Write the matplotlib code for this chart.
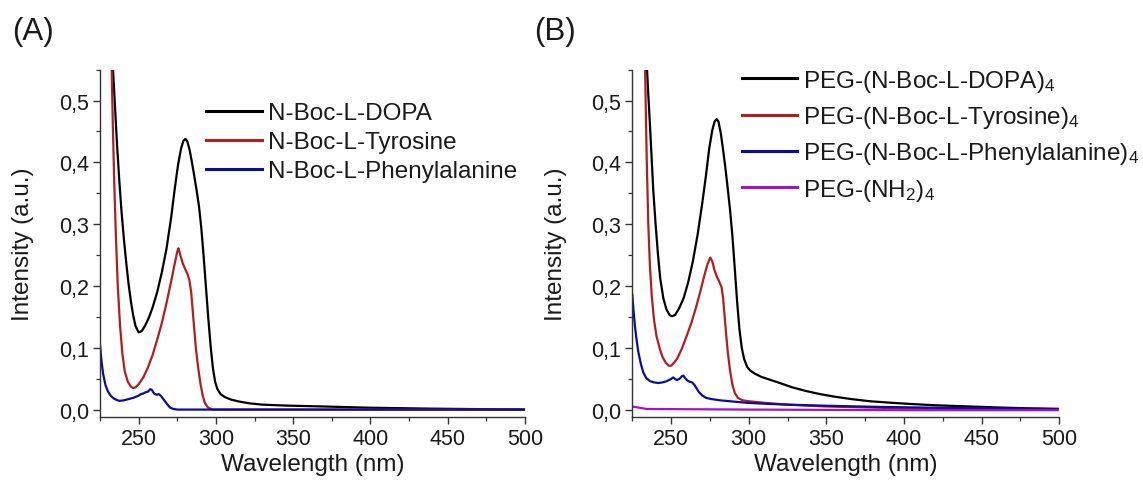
import matplotlib
matplotlib.use("Agg")
import matplotlib.pyplot as plt
from matplotlib.ticker import MultipleLocator, FuncFormatter

plt.rcParams['font.family'] = ['Liberation Sans', 'DejaVu Sans']
plt.rcParams['mathtext.fontset'] = 'custom'
plt.rcParams['mathtext.rm'] = 'Liberation Sans'
plt.rcParams['mathtext.default'] = 'regular'

# ---------------- Panel A data ----------------
a_dopa_x = [233.2, 234.5, 236.0, 237.5, 239.0, 240.5, 242.0, 243.5, 245.0, 246.5, 248.0, 250.0,
            252.0, 254.0, 256.5, 259.0, 262.0, 265.0, 268.0, 271.0, 273.5, 275.5, 277.5, 279.0,
            280.3, 281.5, 283.0, 284.5, 286.0, 287.5, 289.0, 290.5, 292.0, 293.5, 295.0, 296.5,
            298.0, 299.5, 301.0, 303.0, 306.0, 310.0, 315.0, 322.0, 330.0, 345.0, 370.0, 400.0,
            440.0, 500.0]
a_dopa_y = [0.56, 0.50, 0.43, 0.37, 0.318, 0.275, 0.237, 0.203, 0.175, 0.152, 0.135, 0.125,
            0.127, 0.135, 0.148, 0.165, 0.19, 0.222, 0.26, 0.31, 0.36, 0.396, 0.423, 0.435,
            0.438, 0.434, 0.42, 0.40, 0.378, 0.355, 0.33, 0.295, 0.25, 0.2, 0.15, 0.105,
            0.068, 0.045, 0.033, 0.025, 0.02, 0.016, 0.013, 0.010, 0.008, 0.0065, 0.005, 0.003,
            0.0015, 0.0]

a_tyr_x = [232.5, 233.3, 234.3, 235.3, 236.5, 238.0, 239.5, 241.0, 243.0, 245.0, 246.5, 248.0,
           250.0, 253.0, 256.0, 259.0, 262.0, 265.0, 268.0, 271.0, 273.5, 275.0, 275.8, 277.0,
           278.5, 280.0, 281.5, 282.8, 284.0, 285.0, 286.0, 287.0, 288.5, 290.0, 291.5, 293.0,
           295.0, 298.0, 500.0]
a_tyr_y = [0.56, 0.46, 0.36, 0.28, 0.2, 0.135, 0.09, 0.062, 0.045, 0.037, 0.035, 0.036,
           0.041, 0.052, 0.068, 0.088, 0.113, 0.14, 0.172, 0.207, 0.238, 0.256, 0.261, 0.25,
           0.237, 0.228, 0.22, 0.21, 0.19, 0.16, 0.13, 0.1, 0.068, 0.042, 0.022, 0.01,
           0.003, 0.0, 0.0]

a_phe_x = [225.0, 226.0, 227.0, 228.5, 230.0, 232.0, 234.5, 237.5, 240.5, 243.5, 246.5, 249.5,
           251.5, 253.0, 254.5, 256.0, 257.5, 258.5, 260.0, 261.5, 263.0, 264.5, 266.0, 267.5,
           269.0, 270.5, 272.5, 275.0, 500.0]
a_phe_y = [0.105, 0.078, 0.058, 0.04, 0.03, 0.022, 0.017, 0.014, 0.015, 0.017, 0.019, 0.022,
           0.025, 0.026, 0.028, 0.029, 0.033, 0.032, 0.026, 0.024, 0.025, 0.022, 0.017, 0.012,
           0.007, 0.003, 0.001, 0.0, 0.0]

# ---------------- Panel B data ----------------
b_dopa_x = [234.3, 235.3, 236.4, 237.5, 238.5, 240.0, 241.5, 243.0, 245.0, 247.0, 249.0, 250.5,
            252.5, 255.0, 258.0, 261.0, 264.0, 267.0, 270.0, 272.5, 274.5, 276.5, 278.0, 279.3,
            280.5, 282.0, 283.5, 285.0, 286.5, 288.0, 289.5, 291.0, 292.5, 294.0, 295.5, 297.0,
            299.0, 301.0, 304.0, 308.0, 314.0, 320.0, 328.0, 337.0, 346.0, 355.0, 366.0, 378.0,
            392.0, 405.0, 420.0, 440.0, 460.0, 480.0, 500.0]
b_dopa_y = [0.56, 0.51, 0.459, 0.405, 0.355, 0.3, 0.252, 0.212, 0.18, 0.162, 0.153, 0.151,
            0.153, 0.163, 0.18, 0.206, 0.24, 0.282, 0.333, 0.38, 0.422, 0.452, 0.466, 0.470,
            0.466, 0.447, 0.42, 0.39, 0.357, 0.322, 0.28, 0.228, 0.175, 0.13, 0.1, 0.082,
            0.069, 0.063, 0.058, 0.053, 0.048, 0.043, 0.036, 0.03, 0.025, 0.021, 0.017, 0.0135,
            0.011, 0.009, 0.007, 0.0052, 0.0035, 0.002, 0.001]

b_tyr_x = [233.2, 233.8, 234.3, 235.3, 236.3, 237.5, 239.0, 240.5, 242.5, 244.5, 246.5, 248.5,
           250.0, 252.0, 254.0, 257.0, 260.0, 263.0, 266.0, 269.0, 271.5, 273.5, 275.2, 276.5,
           278.0, 279.5, 281.0, 282.5, 283.5, 284.5, 285.5, 286.5, 288.0, 289.5, 291.0, 293.0,
           296.0, 300.0, 310.0, 325.0, 350.0, 400.0, 450.0, 500.0]
b_tyr_y = [0.56, 0.47, 0.405, 0.3, 0.235, 0.185, 0.145, 0.12, 0.1, 0.085, 0.076, 0.071,
           0.071, 0.076, 0.083, 0.099, 0.119, 0.14, 0.165, 0.193, 0.218, 0.236, 0.246, 0.24,
           0.225, 0.215, 0.207, 0.198, 0.18, 0.15, 0.12, 0.093, 0.062, 0.04, 0.027, 0.019,
           0.015, 0.0135, 0.011, 0.008, 0.005, 0.002, 0.0005, 0.0]

b_phe_x = [225.0, 225.8, 226.7, 227.8, 228.9, 230.5, 232.1, 234.0, 236.4, 239.0, 241.8, 244.5,
           247.2, 249.5, 251.4, 252.8, 254.0, 255.5, 257.0, 257.9, 259.0, 260.5, 262.0, 263.5,
           265.0, 266.5, 268.0, 270.0, 272.5, 276.0, 281.5, 290.0, 298.7, 310.0, 324.5, 350.0,
           384.6, 420.0, 460.0, 500.0]
b_phe_y = [0.186, 0.16, 0.135, 0.112, 0.093, 0.074, 0.06, 0.051, 0.046, 0.044, 0.043, 0.044,
           0.046, 0.049, 0.052, 0.049, 0.048, 0.05, 0.054, 0.055, 0.051, 0.047, 0.045, 0.044,
           0.04, 0.034, 0.028, 0.023, 0.019, 0.017, 0.015, 0.013, 0.011, 0.0095, 0.008, 0.0062,
           0.0043, 0.003, 0.002, 0.001]

b_nh2_x = [225.0, 234.3, 300.0, 400.0, 500.0]
b_nh2_y = [0.005, 0.001, 0.0, -0.001, -0.001]

labels_a = ['N-Boc-L-DOPA', 'N-Boc-L-Tyrosine', 'N-Boc-L-Phenylalanine']
labels_b = ['PEG-(N-Boc-L-DOPA)$_4$', 'PEG-(N-Boc-L-Tyrosine)$_4$',
            'PEG-(N-Boc-L-Phenylalanine)$_4$', 'PEG-(NH$_2$)$_4$']

C_BLACK = '#000000'
C_RED = '#b01e1e'
C_BLUE = '#0c0c9c'
C_MAG = '#a412c4'

W, H = 1143, 481
fig = plt.figure(figsize=(W / 100, H / 100), dpi=100)
axA = fig.add_axes([100 / W, 1 - 418 / H, 425 / W, (418 - 70.7) / H])
axB = fig.add_axes([632.3 / W, 1 - 418 / H, 427 / W, (418 - 70.7) / H])

comma = FuncFormatter(lambda v, p: f'{v:.1f}'.replace('.', ','))

for ax in (axA, axB):
    ax.set_xlim(225, 500)
    ax.set_ylim(-0.012, 0.55)
    ax.xaxis.set_major_locator(MultipleLocator(50))
    ax.xaxis.set_minor_locator(MultipleLocator(25))
    ax.yaxis.set_major_locator(MultipleLocator(0.1))
    ax.yaxis.set_minor_locator(MultipleLocator(0.05))
    ax.yaxis.set_major_formatter(comma)
    for s in ('top', 'right'):
        ax.spines[s].set_visible(False)
    for s in ('left', 'bottom'):
        ax.spines[s].set_color('#333333')
        ax.spines[s].set_linewidth(1.0)
    ax.tick_params(which='major', direction='out', length=5, width=1.0, color='#333333',
                   labelsize=15.5, labelcolor='#1a1a1a', pad=3)
    ax.tick_params(which='minor', direction='out', length=3, width=0.9, color='#333333')
    ax.set_xlabel('Wavelength (nm)', fontsize=17.5, color='#1a1a1a')
    ax.set_ylabel('Intensity (a.u.)', fontsize=17.5, color='#1a1a1a')

lw = 1.6
axA.plot(a_dopa_x, a_dopa_y, color=C_BLACK, lw=lw, label=labels_a[0])
axA.plot(a_tyr_x, a_tyr_y, color=C_RED, lw=lw, label=labels_a[1])
axA.plot(a_phe_x, a_phe_y, color=C_BLUE, lw=lw, label=labels_a[2])

axB.plot(b_dopa_x, b_dopa_y, color=C_BLACK, lw=lw, label=labels_b[0])
axB.plot(b_tyr_x, b_tyr_y, color=C_RED, lw=lw, label=labels_b[1])
axB.plot(b_phe_x, b_phe_y, color=C_BLUE, lw=lw, label=labels_b[2])
axB.plot(b_nh2_x, b_nh2_y, color=C_MAG, lw=lw, label=labels_b[3])

for ax in (axA, axB):
    ax.xaxis.set_label_coords(0.5, -0.105)
axA.yaxis.set_label_coords(-0.155, 0.5)
axB.yaxis.set_label_coords(-0.153, 0.5)

legA = axA.legend(loc='upper left', bbox_to_anchor=(206 / W, 1 - 103 / H),
                  bbox_transform=fig.transFigure, frameon=False, fontsize=17.5,
                  handlelength=2.3, handletextpad=0.25, labelspacing=0.29,
                  borderpad=0, borderaxespad=0)
legB = axB.legend(loc='upper left', bbox_to_anchor=(742 / W, 1 - 69 / H),
                  bbox_transform=fig.transFigure, frameon=False, fontsize=17.5,
                  handlelength=2.26, handletextpad=0.25, labelspacing=0.42,
                  borderpad=0, borderaxespad=0)
for leg in (legA, legB):
    for line in leg.get_lines():
        line.set_linewidth(2.2)
    for t in leg.get_texts():
        t.set_color('#1a1a1a')

fig.text(12 / W, 1 - 32 / H, '(A)', fontsize=22.5, va='center', ha='left', color='#1a1a1a')
fig.text(534 / W, 1 - 32 / H, '(B)', fontsize=22.5, va='center', ha='left', color='#1a1a1a')

fig.savefig('out.png', dpi=100)
